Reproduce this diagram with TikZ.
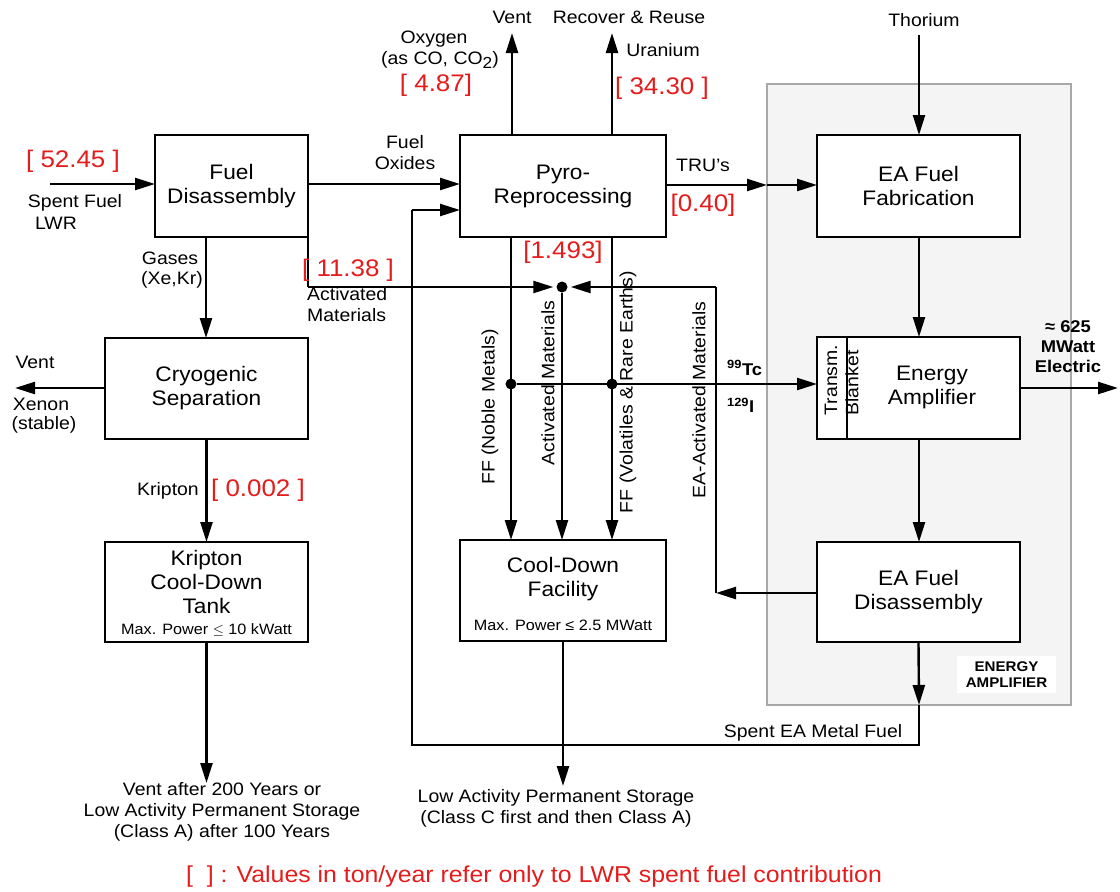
\documentclass[tikz,border=0pt]{standalone}
\usepackage{fontspec}
\setmainfont[FakeStretch=1.08]{Liberation Sans}
\usetikzlibrary{arrows.meta}
\definecolor{vred}{RGB}{228,28,28}
\definecolor{panelfill}{RGB}{244,244,244}
\definecolor{panelline}{RGB}{168,168,168}
\begin{document}
\begin{tikzpicture}[x=1pt,y=-1pt,
  box/.style={draw,fill=white,line width=2.4pt,inner sep=0pt,outer sep=0pt},
  arr/.style={line width=2.4pt,-{Triangle[length=20pt,width=12pt]}},
  ln/.style={line width=2.4pt},
  lbl/.style={font=\fontsize{18}{21}\selectfont,inner sep=0pt,align=center},
  small/.style={font=\fontsize{15}{17}\selectfont,inner sep=0pt},
  bold/.style={font=\fontsize{17}{20}\selectfont\bfseries,inner sep=0pt,align=center},
  val/.style={font=\fontsize{24}{27}\selectfont,text=vred,inner sep=0pt},
  btxt/.style={font=\fontsize{21}{24}\selectfont,align=center},
  dot/.style={circle,fill=black,inner sep=0pt,minimum size=11pt},
]
\useasboundingbox (0,0) rectangle (1120,892);
\fill[white] (0,0) rectangle (1120,892);
% energy amplifier panel
\draw[fill=panelfill,draw=panelline,line width=2.5pt] (767,84) rectangle (1071,705);
\node[fill=white,inner sep=0pt,minimum width=99pt,minimum height=37pt] (eabox) at (1006.5,674.5) {};
\node[font=\fontsize{14}{16}\selectfont\bfseries,align=center,inner sep=0pt] (ealbl) at (eabox) {ENERGY\\AMPLIFIER};

% boxes
\node[box,btxt,minimum width=153pt,minimum height=102pt] (fd) at (231.5,186) {Fuel\\Disassembly};
\node[box,btxt,minimum width=206pt,minimum height=102pt] (pyro) at (563,186) {Pyro-\\Reprocessing};
\node[box,btxt,minimum width=203pt,minimum height=102pt] (eaff) at (918.5,186) {EA Fuel\\Fabrication};
\node[box,btxt,minimum width=203pt,minimum height=101pt] (cs) at (206.5,388.5) {Cryogenic\\Separation};
\node[box,minimum width=203pt,minimum height=100pt] (kt) at (206.5,592) {};
\node[btxt,inner sep=0pt] (ktt) at (206.5,582) {Kripton\\Cool-Down\\Tank};
\node[small] (ktp) at (206.5,630) {Max. Power $\le$ 10 kWatt};
\node[box,minimum width=206pt,minimum height=101pt] (cdf) at (563,590.5) {};
\node[btxt,inner sep=0pt] (cdft) at (563,579) {Cool-Down\\Facility};
\node[small] (cdfp) at (563,625) {Max. Power ≤ 2.5 MWatt};
\node[box,minimum width=203pt,minimum height=102pt] (ea) at (918.5,388) {};
\draw[ln] (847,337) -- (847,439);
\node[btxt,inner sep=0pt] (eat) at (932,387) {Energy\\Amplifier};
\node[lbl,rotate=90] (tr) at (831,380) {Transm.};
\node[lbl,rotate=90] (bl) at (852,383) {Blanket};
\node[box,btxt,minimum width=203pt,minimum height=100pt] (eafd) at (918.5,592) {EA Fuel\\Disassembly};

% inputs
\coordinate (sf) at (50,184);
\draw[arr] (sf) -- (sf -| fd.west);
\node[val] (v1) at (73,161) {[ 52.45 ]};
\node[lbl] (sfl) at (75,203) {Spent Fuel};
\node[lbl] (lwr) at (56,223) {LWR};

\draw[arr] (fd.east |- 0,184) -- (pyro.west |- 0,184);
\node[lbl] (fo) at (405,153) {Fuel\\Oxides};

% top outputs of pyro
\coordinate (ventT) at (512,33);
\coordinate (uT) at (612,33);
\draw[arr] (ventT |- pyro.north) -- (ventT);
\draw[arr] (uT |- pyro.north) -- (uT);
\node[lbl] (vt) at (512,17) {Vent};
\node[lbl] (rr) at (629,17) {Recover \& Reuse};
\node[lbl] (ur) at (663,50) {Uranium};
\node[lbl] (ox) at (434,39) {Oxygen};
\node[lbl] (co) at (440,60) {(as CO, CO\raisebox{-0.45ex}{\fontsize{16}{16}\selectfont 2})};
\node[val] (v2) at (436,85) {[ 4.87]};
\node[val] (v3) at (662,88) {[ 34.30 ]};

% TRU's
\coordinate (pw) at (767,185);
\draw[arr] (pyro.east |- pw) -- (pw);
\draw[arr] (pw) -- (pw -| eaff.west);
\node[lbl] (tru) at (703,165) {TRU's};
\node[val] (v4) at (703,205) {[0.40]};

% thorium
\coordinate (th) at (919,35);
\draw[arr] (th) -- (th |- eaff.north);
\node[lbl] (thl) at (924,20) {Thorium};

% EA chain
\draw[arr] (919,237) -- (919,337);
\draw[arr] (919,439) -- (919,542);
\coordinate (eo) at (1118,388);
\draw[arr] (ea.east |- eo) -- (eo);
\node[bold] (mw) at (1068,347) {≈ 625\\MWatt\\Electric};

% gases
\draw[arr] (206,237) -- (206,338);
\node[lbl] (gs) at (170,258) {Gases};
\node[lbl] (xk) at (172,280) {(Xe,Kr)};

% cryogenic outputs
\coordinate (xv) at (15,388);
\draw[arr] (cs.west |- xv) -- (xv);
\node[lbl] (vn) at (35,362) {Vent};
\node[lbl] (xe) at (41,404) {Xenon};
\node[lbl] (st) at (44,425) {(stable)};
\draw[arr] (cs.south) -- (kt.north);
\node[lbl] (kr) at (168,491) {Kripton};
\node[val] (v5) at (258,490) {[ 0.002 ]};

% Kripton tank output
\coordinate (kto) at (206.5,783);
\draw[arr] (kt.south) -- (kto);
\node[lbl] (ktx) at (222,812) {Vent after 200 Years or\\Low Activity Permanent Storage\\(Class A) after 100 Years};

% Cool-down output
\coordinate (cdo) at (563,786);
\draw[arr] (cdf.south) -- (cdo);
\node[lbl] (cdx) at (556,808) {Low Activity Permanent Storage\\(Class C first and then Class A)};

% activated materials junction
\node[dot] (jn) at (562,287) {};
\coordinate (amc) at (308,287);
\draw[ln] (fd.south east) -- (amc);
\draw[arr,shorten >=3pt] (amc) -- (jn);
\node[val] (v6) at (348,270) {[ 11.38 ]};
\node[lbl,align=left,anchor=north west] (am) at (307,287) {Activated\\Materials};
\node[val] (v7) at (563,252) {[1.493]};

% EA activated return
\coordinate (er) at (716,593);
\draw[arr] (eafd.west |- er) -- (er);
\draw[ln] (er) -- (716,287);
\draw[arr,shorten >=3pt] (716,287) -- (jn);

% pyro bottom lines
\draw[arr] (511,237) -- (511,540);
\draw[arr] (612,237) -- (612,540);
\draw[arr] (jn) -- (562,540);
\node[dot] (d1) at (511,384) {};
\node[dot] (d2) at (612,384) {};
\draw[arr] (d1) -- (d1 -| ea.west);
\node[bold,anchor=west] (tc) at (727,368) {\textsuperscript{99}Tc};
\node[bold,anchor=west] (io) at (727,405) {\textsuperscript{129}I};

\node[lbl,rotate=90] (fn) at (490,407) {FF (Noble Metals)};
\node[lbl,rotate=90] (ac) at (548,383) {Activated Materials};
\node[lbl,rotate=90] (fv) at (628,392) {FF (Volatiles \& Rare Earths)};
\node[lbl,rotate=90] (ea2) at (699,400) {EA-Activated Materials};

% spent EA metal fuel return
\coordinate (pe) at (919,705);
\coordinate (rb) at (919,745);
\coordinate (lb) at (412,745);
\coordinate (lt) at (412,210);
\draw[arr] (eafd.south) -- (pe);
\draw[ln] (pe) -- (rb) -- (lb) -- (lt);
\draw[arr] (lt) -- (lt -| pyro.west);
\node[lbl] (sem) at (813,733) {Spent EA Metal Fuel};

% legend
\node[font=\fontsize{23}{26}\selectfont,text=vred,inner sep=0pt] (leg) at (534,877) {[\ \ ] : Values in ton/year refer only to LWR spent fuel contribution};
\end{tikzpicture}
\end{document}
